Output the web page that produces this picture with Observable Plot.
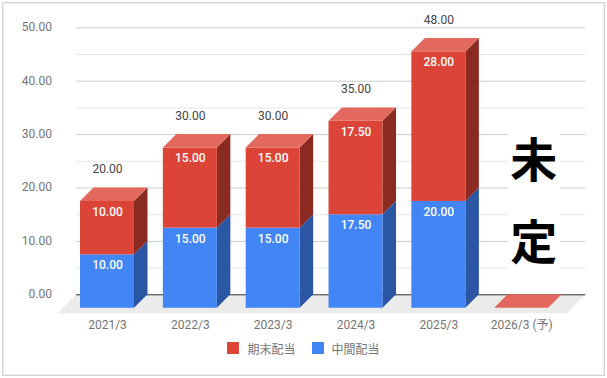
<!DOCTYPE html>
<html><head><meta charset="utf-8">
<script src="https://cdn.jsdelivr.net/npm/d3@7"></script>
<script src="https://cdn.jsdelivr.net/npm/@observablehq/plot@0.6"></script>
<style>
html,body{margin:0;padding:0;background:#fff}
#frame{position:relative;width:607px;height:378px;overflow:hidden;font-family:Roboto,"Noto Sans CJK JP",sans-serif}
#frame svg{display:block}
#border{position:absolute;left:2px;top:2px;width:601px;height:372px;border:1px solid #d4d4d4;box-shadow:inset 0 0 0 1px #efefef;pointer-events:none}
#legend{display:flex;justify-content:center;align-items:center;height:16px;margin-top:0;font-size:12px;color:#757575;font-family:Roboto,"Noto Sans CJK JP",sans-serif}
#legend i{display:inline-block;width:12px;height:12px;margin-right:8px}
#legend span{display:inline-flex;align-items:center;margin-right:16px}
#legend span:last-child{margin-right:0}
</style></head><body>
<div id="frame"><div id="chart"></div><div id="legend"></div><div id="border"></div></div>
<script>
const periods = ["2021/3","2022/3","2023/3","2024/3","2025/3","2026/3 (予)"];
const interim = [10,15,15,17.5,20,0];
const yearEnd = [10,15,15,17.5,28,0];
const totals  = [20,30,30,35,48,null];
const yearEndName = "期末配当";
const interimName = "中間配当";
const pendingChars = ["未","定"];

const colors = {
  blue:"#4285f4", blueSide:"#2a56a3",
  red:"#db4437", redSide:"#8a2a21", redTop:"#e3695e"
};
const hw = 0.326, dx = 0.163, dy = 2.52;   // half bar width, 3-D depth in x and y units
const gridL = -0.374, gridR = 5.773;

const idx = d3.range(periods.length);
const side = (i, lo, hi, f, key) => [
  {x:i+hw,     y1:lo-dy, y2:hi-dy, f, key},
  {x:i+hw+dx,  y1:lo,    y2:hi,    f, key}
];
const sides = [], tops = [], fronts = [];
for (const i of idx) {
  const a = interim[i], b = a + yearEnd[i];
  if (b > 0) {
    sides.push(...side(i,0,a,colors.blueSide,"b"+i), ...side(i,a,b,colors.redSide,"r"+i));
    fronts.push({x1:i-hw,x2:i+hw,y1:-dy,y2:a-dy,f:colors.blue},
                {x1:i-hw,x2:i+hw,y1:a-dy,y2:b-dy,f:colors.red});
  }
  tops.push({y:b-dy,x1:i-hw,x2:i+hw,key:i},{y:b,x1:i-hw+dx,x2:i+hw+dx,key:i});
}
const floor = [{y:0,x1:gridL,x2:gridR},{y:-3.56,x1:gridL-dx*1.33,x2:gridR-dx*1.33}];
const segLabels = idx.filter(i=>interim[i]>0).flatMap(i=>[
  {x:i,y:interim[i]-dy,t:interim[i].toFixed(2)},
  {x:i,y:interim[i]+yearEnd[i]-dy,t:yearEnd[i].toFixed(2)}
]);
// the white patch carrying 未定 over the last column
const patch = [{x1:4.84,x2:5.47,y1:0.8,y2:32}];
const pending = [{x:5.145,y:24.9,t:pendingChars[0]},{x:5.145,y:9.5,t:pendingChars[1]}];

const chart = Plot.plot({
  width:607, height:340,
  marginTop:0, marginLeft:0, marginRight:0, marginBottom:24,
  style:{fontFamily:'Roboto,"Noto Sans CJK JP",sans-serif',fontSize:"12px",background:"transparent"},
  x:{type:"linear",domain:[0,5],range:[107,521.2]},
  y:{type:"linear",domain:[0,50],range:[294.3,27.3]},
  marks:[
    Plot.ruleY(d3.range(5,50,10),{x1:gridL,x2:gridR,stroke:"#e6e6e6",strokeWidth:1}),
    Plot.ruleY(d3.range(10,51,10),{x1:gridL,x2:gridR,stroke:"#cccccc",strokeWidth:1}),
    Plot.rect(patch,{x1:"x1",x2:"x2",y1:"y1",y2:"y2",fill:"#fff"}),
    Plot.areaX(floor,{y:"y",x1:"x1",x2:"x2",fill:"#ebebeb"}),
    Plot.ruleY([0],{x1:gridL,x2:gridR,stroke:"#333333",strokeWidth:1}),
    Plot.areaY(sides,{x:"x",y1:"y1",y2:"y2",fill:"f",z:"key"}),
    Plot.areaX(tops,{y:"y",x1:"x1",x2:"x2",fill:colors.redTop,z:"key"}),
    Plot.rect(fronts,{x1:"x1",x2:"x2",y1:"y1",y2:"y2",fill:"f"}),
    Plot.axisY(d3.range(0,51,10),{anchor:"left",tickSize:0,tickPadding:0,dx:51.5,dy:-0.5,tickFormat:d=>d.toFixed(2),fill:"#757575",fontSize:12,label:null,textAnchor:"end"}),
    Plot.axisX(idx,{anchor:"bottom",tickSize:0,tickPadding:4,tickFormat:i=>periods[i],fill:"#757575",fontSize:12,label:null}),
    Plot.text(segLabels,{x:"x",y:"y",text:"t",dy:10.5,fill:"#fff",fontWeight:500,fontSize:12}),
    Plot.text(idx.filter(i=>totals[i]!=null),{x:i=>i,y:i=>totals[i],text:i=>totals[i].toFixed(2),dy:-18.5,fill:"#444",fontSize:12}),
    Plot.text(pending,{x:"x",y:"y",text:"t",fill:"#000",fontWeight:"bold",fontSize:47,fontFamily:'"Noto Sans CJK JP"'})
  ]
});
document.getElementById("chart").append(chart);

const legend = document.getElementById("legend");
for (const [name,c] of [[yearEndName,colors.red],[interimName,colors.blue]]) {
  const s = document.createElement("span");
  const sw = document.createElement("i"); sw.style.background = c;
  s.append(sw, document.createTextNode(name));
  legend.append(s);
}
</script>
</body></html>
